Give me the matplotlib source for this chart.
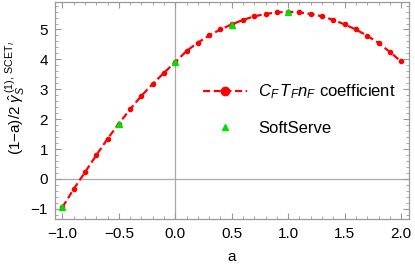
import numpy as np
import matplotlib
matplotlib.use("Agg")
import matplotlib.pyplot as plt
from matplotlib.ticker import MultipleLocator

plt.rcParams["font.family"] = ["Liberation Sans", "DejaVu Sans"]
plt.rcParams["mathtext.fontset"] = "custom"
plt.rcParams["mathtext.it"] = "Liberation Sans:italic"
plt.rcParams["mathtext.rm"] = "Liberation Sans"

# C_F T_F n_F coefficient, sampled every 0.1 in a
a_coef = [-1.0, -0.9, -0.8, -0.7, -0.6, -0.5, -0.4, -0.3, -0.2, -0.1, 0.0,
          0.1, 0.2, 0.3, 0.4, 0.5, 0.6, 0.7, 0.8, 0.9, 1.0,
          1.1, 1.2, 1.3, 1.4, 1.5, 1.6, 1.7, 1.8, 1.9, 2.0]
coef = [-0.95, -0.34, 0.22, 0.79, 1.34, 1.85, 2.33, 2.78, 3.18, 3.55, 3.91,
        4.28, 4.56, 4.80, 5.00, 5.17, 5.32, 5.44, 5.52, 5.57, 5.59,
        5.57, 5.52, 5.44, 5.32, 5.17, 5.00, 4.79, 4.55, 4.25, 3.93]

# SoftServe points
a_ss = [-1.0, -0.5, 0.0, 0.5, 1.0]
ss = [-0.95, 1.85, 3.90, 5.15, 5.60]

FS = 11
LFS = 12

fig = plt.figure(figsize=(4.15, 2.70), dpi=100)
ax = fig.add_axes([55 / 415, 51 / 270, 354 / 415, 217 / 270])

ax.axhline(0, color="#aaaaaa", lw=0.9, zorder=0)
ax.axvline(0, color="#aaaaaa", lw=0.9, zorder=0)

ax.plot(a_coef, coef, ls=(0, (3.2, 1.6)), color="red", lw=1.6,
        marker="o", ms=3.0, label=r"$C_F\,T_F n_F$ coefficient")
ax.plot(a_ss, ss, ls="none", marker="^", ms=5, color="#00e000",
        label="SoftServe")

ax.set_xlim(-1.065, 2.07)
ax.set_ylim(-1.34, 5.92)

ax.xaxis.set_major_locator(MultipleLocator(0.5))
ax.xaxis.set_minor_locator(MultipleLocator(0.1))
ax.yaxis.set_major_locator(MultipleLocator(1))
ax.yaxis.set_minor_locator(MultipleLocator(0.2))
ax.xaxis.set_major_formatter(lambda v, p: f"{v:.1f}".replace("-", "\u2212"))
ax.yaxis.set_major_formatter(lambda v, p: f"{v:.0f}".replace("-", "\u2212"))
ax.tick_params(which="both", direction="in", top=True, right=True,
               color="#999999", labelsize=FS)
ax.tick_params(axis="x", pad=6)
ax.tick_params(axis="y", pad=5)
ax.tick_params(which="major", length=4, width=0.8)
ax.tick_params(which="minor", length=2, width=0.6)
for s in ax.spines.values():
    s.set_color("#999999")
    s.set_linewidth(0.9)

ax.set_xlabel("a", fontsize=FS, labelpad=6)
ax.set_ylabel(r"(1$-$a)/2 $\hat{\gamma}_S^{\,(1),\,\mathrm{SCET}_I}$",
              fontsize=FS)
ax.yaxis.set_label_coords(-0.08, 0.56)

leg = ax.legend(loc="upper left", bbox_to_anchor=(0.40, 0.66), frameon=False,
                fontsize=LFS, handlelength=2.6, labelspacing=1.2,
                handletextpad=0.7, borderaxespad=0)
leg.legend_handles[0].set_markersize(6)
leg.legend_handles[1].set_markersize(4)

fig.savefig("out.png", dpi=100)
